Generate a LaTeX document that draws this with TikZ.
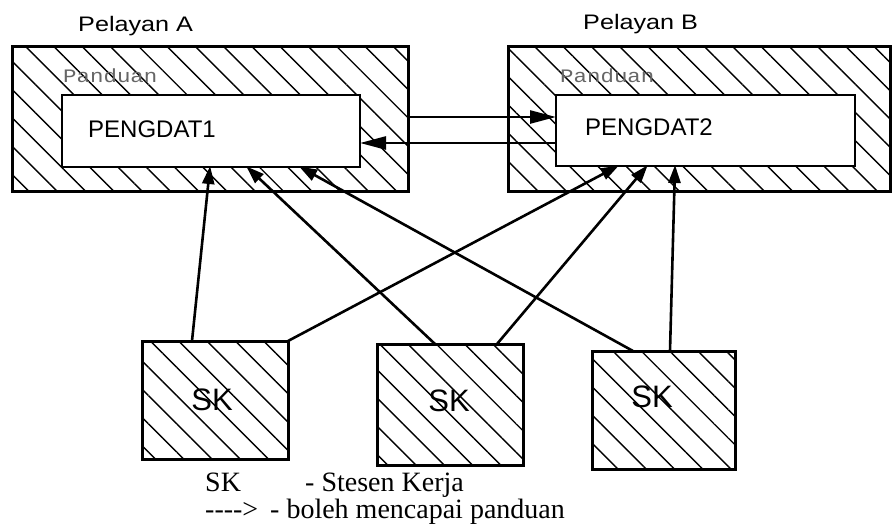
\documentclass[tikz,border=0pt]{standalone}
\usepackage{fontspec}
\setmainfont{Liberation Serif}
\setsansfont{Liberation Sans}
\setmonofont{Liberation Mono}
\usetikzlibrary{patterns.meta,arrows.meta}
\begin{document}
\begin{tikzpicture}[x=1pt,y=-1pt,
  hatch/.style={pattern={Lines[angle=-45,distance=20pt,line width=1.4pt]}},
  srvbox/.style={draw,line width=3pt,hatch,inner sep=0pt,outer sep=0pt},
  dbbox/.style={draw,line width=2.5pt,fill=white,inner sep=0pt,outer sep=0pt},
  skbox/.style={draw,line width=3pt,hatch,inner sep=0pt,outer sep=0pt},
  conn/.style={line width=2.6pt,-{Triangle[length=18pt,width=12pt]},shorten >=-1pt},
  hconn/.style={line width=2.6pt,-{Triangle[length=26pt,width=13pt]}},
  srvlabel/.style={anchor=base west,inner sep=0pt,font=\sffamily\fontsize{21}{24}\selectfont},
  pdlabel/.style={anchor=base west,inner sep=0pt,text=black!60,font=\ttfamily\fontsize{19}{20}\selectfont},
  dblabel/.style={anchor=base west,inner sep=0pt,font=\sffamily\fontsize{24}{28}\selectfont},
  sklabel/.style={inner sep=0pt,font=\sffamily\fontsize{31}{34}\selectfont},
  legend/.style={anchor=base west,inner sep=0pt,align=left,font=\fontsize{28}{21}\selectfont}]
\fill[white] (0,0) rectangle (892,530);
\useasboundingbox (0,0) rectangle (892,530);

% servers
\node[srvbox,minimum width=396pt,minimum height=145pt] (srvA) at (210,118.5) {};
\node[srvbox,minimum width=382pt,minimum height=145pt] (srvB) at (699,118.5) {};
\node[srvlabel] (labA) at (78,31) {\scalebox{1.2}[1]{Pelayan A}};
\node[srvlabel] (labB) at (583,30) {\scalebox{1.2}[1]{Pelayan B}};
\node[pdlabel] (pdA) at (63,82) {\scalebox{1.18}[1]{Panduan}};
\node[pdlabel] (pdB) at (560,82) {\scalebox{1.18}[1]{Panduan}};

% databases
\node[dbbox,minimum width=298pt,minimum height=72pt] (pd1) at (211,131) {};
\node[dbbox,minimum width=299pt,minimum height=71pt] (pd2) at (705.5,130.5) {};
\node[dblabel] (t1) at (88,137) {PENGDAT1};
\node[dblabel] (t2) at (585,135) {PENGDAT2};

% workstations
\node[skbox,minimum width=146pt,minimum height=118pt] (sk1) at (215,400) {};
\node[skbox,minimum width=146pt,minimum height=121pt] (sk2) at (450,404.5) {};
\node[skbox,minimum width=143pt,minimum height=118pt] (sk3) at (663.5,410) {};
\node[sklabel] (s1) at (212,400) {SK};
\node[sklabel] (s2) at (449,401) {SK};
\node[sklabel] (s3) at (652,397) {SK};

% server links
\draw[hconn] (srvA.east |- 0,117) -- (pd2.west |- 0,117);
\draw[hconn] (pd2.west |- 0,143) -- (pd1.east |- 0,143);

% workstation links
\draw[conn] (sk1.north -| 192,0) -- (pd1.south -| 210,0);
\draw[conn] (sk1.north east) -- (pd2.south -| 618,0);
\draw[conn] (sk2.north -| 435,0) -- (pd1.south -| 247,0);
\draw[conn] (sk2.north -| 497,0) -- (pd2.south -| 647,0);
\draw[conn] (sk3.north -| 633,0) -- (pd1.south -| 300,0);
\draw[conn] (sk3.north -| 670,0) -- (pd2.south -| 675,0);

% legend
\node[legend] (leg) at (205,518) {\makebox[100pt][l]{SK}- Stesen Kerja\\
  \makebox[65pt][l]{-{}-{}-{}-{}>}- boleh mencapai panduan};
\end{tikzpicture}
\end{document}
